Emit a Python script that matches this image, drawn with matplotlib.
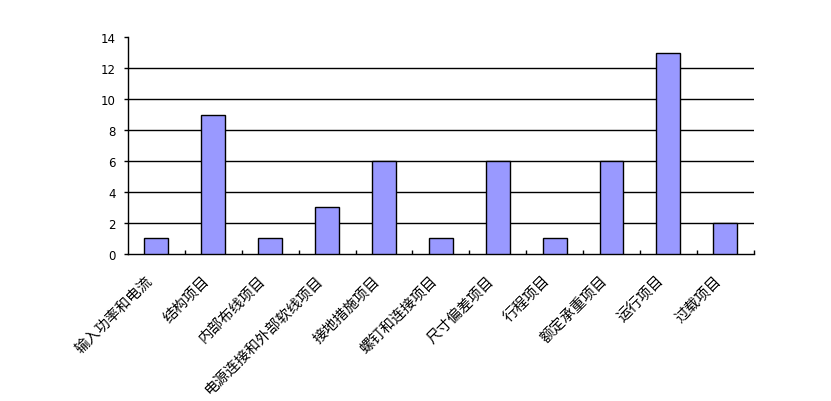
import matplotlib
matplotlib.use('Agg')
import matplotlib.pyplot as plt
import matplotlib.transforms as mtransforms
import numpy as np

# 类别和数值
categories = ['输入功率和电流', '结构项目', '内部布线项目', '电源连接和外部软线项目',
              '接地措施项目', '螺钉和连接项目', '尺寸偏差项目', '行程项目',
              '额定承重项目', '运行项目', '过载项目']
counts = [1, 9, 1, 3, 6, 1, 6, 1, 6, 13, 2]
y_ticks = [0, 2, 4, 6, 8, 10, 12, 14]

plt.rcParams['font.family'] = ['Noto Sans CJK SC', 'DejaVu Sans']

fig = plt.figure(figsize=(8.31, 4.02), dpi=100)
ax = fig.add_axes([0.154, 0.366, 0.753, 0.539])

x = np.arange(len(categories))
ax.bar(x, counts, width=0.42, color='#9999FF', edgecolor='black', linewidth=1.0, zorder=3)

# 网格线（不含顶部）
for yv in y_ticks[1:-1]:
    ax.axhline(yv, color='black', linewidth=1.0, zorder=1)

ax.set_xlim(-0.5, len(categories) - 0.5)
ax.set_ylim(0, 14)
ax.set_yticks(y_ticks)
ax.set_yticklabels([str(v) for v in y_ticks], fontsize=8.5, family='DejaVu Sans')
ax.tick_params(axis='y', direction='out', length=3, width=1, pad=6)

ax.set_xticks(x)
ax.set_xticklabels(categories, rotation=45, ha='right', rotation_mode='anchor', fontsize=10.5)
ax.tick_params(axis='x', which='major', length=0, pad=14)
shift = mtransforms.ScaledTranslation(-8 / 72, 0, fig.dpi_scale_trans)
for lbl in ax.get_xticklabels():
    lbl.set_transform(lbl.get_transform() + shift)
ax.set_xticks(np.arange(len(categories)) + 0.5, minor=True)
ax.tick_params(axis='x', which='minor', direction='in', length=3, width=1)

for s in ['top', 'right']:
    ax.spines[s].set_visible(False)
ax.spines['left'].set_linewidth(1.0)
ax.spines['bottom'].set_linewidth(1.0)

fig.savefig('out.png', dpi=100)
